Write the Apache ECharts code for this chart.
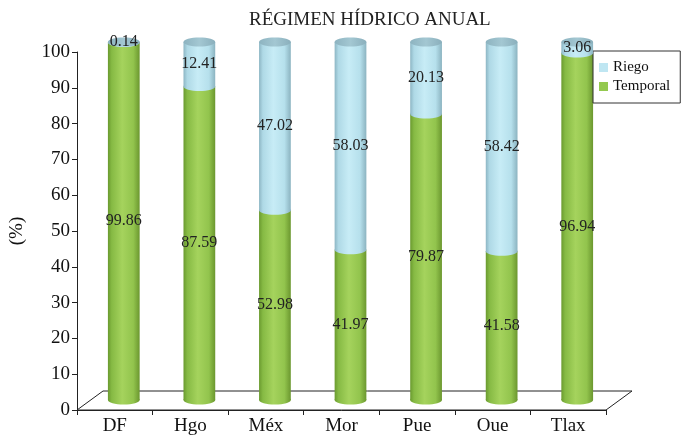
<!DOCTYPE html>
<html>
<head>
<meta charset="utf-8">
<script src="https://cdn.jsdelivr.net/npm/echarts@6/dist/echarts.min.js"></script>
<style>
html,body{margin:0;padding:0;background:#fff;}
#chart{width:681px;height:436px;}
</style>
</head>
<body>
<div id="chart"></div>
<script>
// datos
var estados = ['DF', 'Hgo', 'Méx', 'Mor', 'Pue', 'Oue', 'Tlax'];
var temporal = [99.86, 87.59, 52.98, 41.97, 79.87, 41.58, 96.94];
var riego = [0.14, 12.41, 47.02, 58.03, 20.13, 58.42, 3.06];
var ticksY = [0, 10, 20, 30, 40, 50, 60, 70, 80, 90, 100];

var SERIF = '"Liberation Serif", "Times New Roman", serif';
var DX = 9, DY = -10;      // desplazamiento "3D"
var FX = 26, FY = -19;     // fondo del piso

function grad(stops) {
    return { type: 'linear', x: 0, y: 0, x2: 1, y2: 0, colorStops: stops };
}
var verde = grad([
    { offset: 0, color: '#6a9a2f' }, { offset: 0.12, color: '#86ba44' },
    { offset: 0.45, color: '#a5d35d' }, { offset: 0.8, color: '#92c44d' },
    { offset: 1, color: '#6b972f' }
]);
var azul = grad([
    { offset: 0, color: '#8db6c4' }, { offset: 0.12, color: '#afd9e6' },
    { offset: 0.45, color: '#c7ecf6' }, { offset: 0.8, color: '#b6e0ec' },
    { offset: 1, color: '#8bb3c0' }
]);
var tapa = grad([
    { offset: 0, color: '#8db3c0' }, { offset: 0.5, color: '#a3c7d2' },
    { offset: 1, color: '#8aafbc' }
]);

function cilindro(cuerpo, conTapa) {
    return function (params, api) {
        var i = api.value(0), base = api.value(1), v = api.value(2);
        var p0 = api.coord([i, base]);
        var p1 = api.coord([i, base + v]);
        var rx = api.size([1, 0])[0] * 0.21;
        var ry = 4.5;
        var cx = p0[0] + DX, y0 = p0[1] + DY, y1 = p1[1] + DY;
        var kids = [
            { type: 'ellipse', shape: { cx: cx, cy: y0, rx: rx, ry: ry }, style: { fill: cuerpo } },
            { type: 'rect', shape: { x: cx - rx, y: y1, width: 2 * rx, height: y0 - y1 }, style: { fill: cuerpo } }
        ];
        if (conTapa) {
            kids.push({ type: 'ellipse', shape: { cx: cx, cy: y1, rx: rx, ry: ry }, style: { fill: tapa } });
        }
        kids.push({
            type: 'text', x: cx, y: (y0 + y1) / 2,
            style: { text: v.toFixed(2), font: '16px ' + SERIF, fill: '#222', align: 'center', verticalAlign: 'middle' }
        });
        return { type: 'group', children: kids };
    };
}

var chart = echarts.init(document.getElementById('chart'));
chart.setOption({
    animation: false,
    title: {
        text: 'RÉGIMEN HÍDRICO ANUAL',
        left: 244, top: 6,
        textStyle: { fontFamily: SERIF, fontSize: 19, fontWeight: 'normal', color: '#222' }
    },
    legend: {
        data: ['Riego', 'Temporal'],
        orient: 'vertical',
        left: 593, top: 51,
        padding: [9, 10, 9, 6],
        itemGap: 4,
        itemWidth: 9, itemHeight: 9,
        icon: 'rect',
        borderColor: '#333', borderWidth: 1,
        textStyle: { fontFamily: SERIF, fontSize: 15, color: '#111' }
    },
    grid: { left: 72, right: 75, top: 52, bottom: 24 },
    xAxis: {
        type: 'category',
        data: estados,
        boundaryGap: true,
        axisLine: { lineStyle: { color: '#222', width: 1 } },
        axisTick: { show: true, length: 5, lineStyle: { color: '#222' } },
        axisLabel: { fontFamily: SERIF, fontSize: 19, color: '#111', margin: 7 }
    },
    yAxis: {
        type: 'value',
        min: 0, max: 100, interval: 10,
        name: '(%)',
        nameLocation: 'middle',
        nameGap: 50,
        nameRotate: 90,
        nameTextStyle: { fontFamily: SERIF, fontSize: 19, color: '#111' },
        axisLine: { show: true, lineStyle: { color: '#222', width: 1 } },
        axisTick: { show: true, length: 5, lineStyle: { color: '#222' } },
        axisLabel: {
            fontFamily: SERIF, fontSize: 19, color: '#111', margin: 7,
            formatter: function (v) { return ticksY.indexOf(v) >= 0 ? String(v) : ''; }
        },
        splitLine: { show: false }
    },
    series: [
        {
            // piso
            name: 'piso', type: 'custom', silent: true, z: 1,
            data: [[0, 0]],
            renderItem: function (params, api) {
                var c = params.coordSys;
                var yb = c.y + c.height;
                return {
                    type: 'polygon',
                    shape: { points: [[c.x, yb], [c.x + c.width, yb], [c.x + c.width + FX, yb + FY], [c.x + FX, yb + FY]] },
                    style: { fill: '#fff', stroke: '#222', lineWidth: 1 }
                };
            }
        },
        {
            name: 'Temporal', type: 'custom', z: 3,
            itemStyle: { color: '#94c94f' },
            data: temporal.map(function (v, i) { return [i, 0, v]; }),
            encode: { x: 0, y: 1 },
            renderItem: cilindro(verde, false)
        },
        {
            name: 'Riego', type: 'custom', z: 4,
            itemStyle: { color: '#bfe6f2' },
            data: riego.map(function (v, i) { return [i, temporal[i], v]; }),
            encode: { x: 0, y: 1 },
            renderItem: cilindro(azul, true)
        }
    ]
});
</script>
</body>
</html>
